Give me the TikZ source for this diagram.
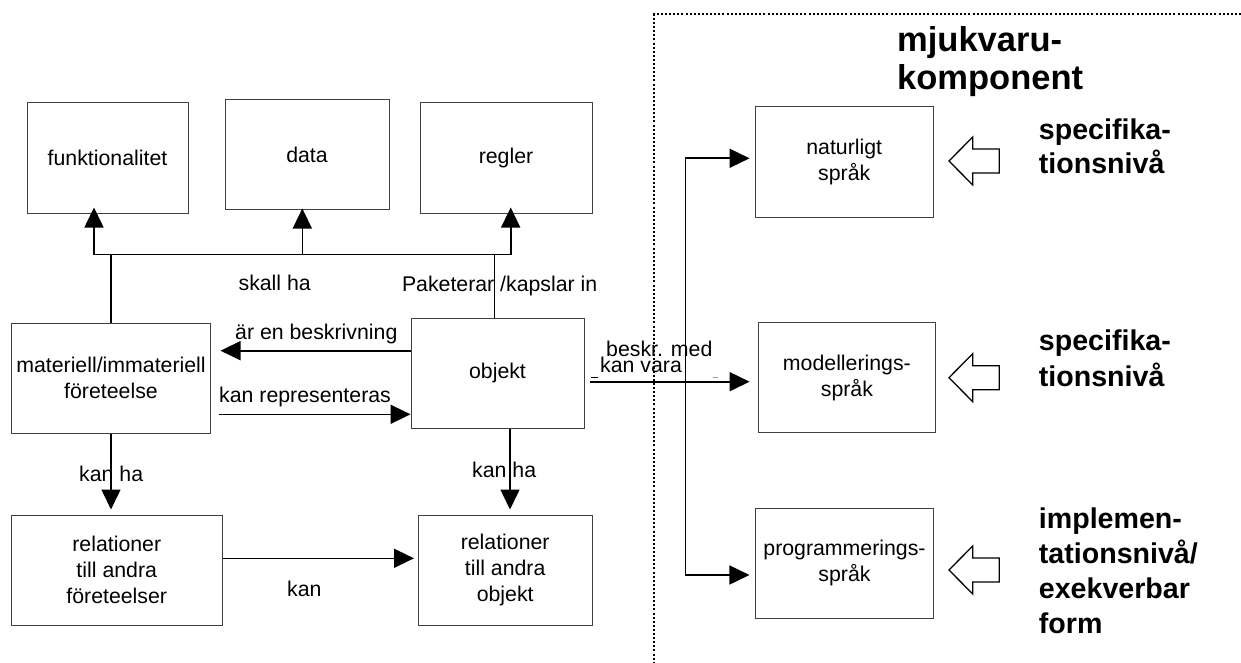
\documentclass[tikz,border=0pt]{standalone}
\usepackage{fontspec}
\setmainfont{Liberation Sans}
\usetikzlibrary{arrows.meta,calc}
\begin{document}
\begin{tikzpicture}[x=1pt,y=-1pt,
  box/.style={draw=black!75,line width=1pt,inner sep=0pt,align=center,font=\fontsize{21.3}{26}\selectfont},
  conn/.style={line width=1.6pt},
  arr/.style={conn,-{Triangle[length=20pt,width=19pt]}},
  lbl/.style={inner sep=0pt,font=\fontsize{21.3}{26}\selectfont},
  big/.style={inner sep=0pt,font=\fontsize{28.6}{35}\selectfont\bfseries},
  ttl/.style={inner sep=0pt,font=\fontsize{34.5}{37}\selectfont\bfseries},
  hollow/.style={draw,line width=1.3pt,fill=white,line join=miter}
]
\useasboundingbox (0,0) rectangle (1241,663);

% dotted frame
\draw[line width=2pt,dash pattern=on 2pt off 2.1pt] (1241,14.3) -- (654.3,14.3) -- (654.3,663);

% boxes
\node[box,minimum width=161pt,minimum height=110pt] (funk) at (107.5,158) {funktionalitet};
\node[box,minimum width=164pt,minimum height=109pt] (data) at (307,154.5) {data};
\node[box,minimum width=172pt,minimum height=110pt] (regler) at (506,158) {regler};
\node[box,minimum width=199pt,minimum height=110pt] (mat) at (111,378) {materiell/immateriell\\företeelse};
\node[box,minimum width=173pt,minimum height=110pt] (obj) at (497.5,373) {objekt};
\node[box,minimum width=210.5pt,minimum height=110pt] (rel1) at (116.75,570) {relationer\\till andra\\företeelser};
\node[box,minimum width=174.4pt,minimum height=110pt] (rel2) at (505.2,570) {relationer\\till andra\\objekt};
\node[box,minimum width=178.3pt,minimum height=110pt] (nat) at (844.2,162) {naturligt\\språk};
\node[box,minimum width=177pt,minimum height=110pt] (mod) at (846.9,377.5) {modellerings-\\språk};
\node[box,minimum width=177.5pt,minimum height=110pt] (prog) at (844.5,563.3) {programmerings-\\språk};

% bus "skall ha"
\coordinate (busL) at (94,254.3);
\coordinate (busM) at (302.3,254.3);
\coordinate (busR) at (510.7,254.3);
\draw[arr,shorten >=-6pt] (busR) -- (busL) -- (busL |- funk.south);
\draw[arr,shorten >=-6pt] (busL) -- (busR) -- (busR |- regler.south);
\draw[arr,shorten >=-1pt] (busM) -- (busM |- data.south);
\draw[conn] (mat.north) -- (mat.north |- busL);
\coordinate (ot) at ($(obj.north)+(-3.2,0)$);
\draw[conn] (ot) -- (ot |- busL);

% objekt <-> materiell
\coordinate (o1) at ($(obj.west)+(0,-22.3)$);
\draw[arr,shorten >=9.5pt] (o1) -- (o1 -| mat.east);
\coordinate (m1) at ($(mat.east)+(0,36.3)$);
\draw[arr,shorten <=7.5pt] (m1) -- (m1 -| obj.west);

% kan ha
\draw[arr,shorten >=5pt] (mat.south) -- (mat.south |- rel1.north);
\coordinate (o2) at ($(obj.south)+(12.5,0)$);
\draw[arr,shorten >=5pt] (o2) -- (o2 |- rel2.north);

% kan
\coordinate (r1) at ($(rel1.east)+(0,-11.7)$);
\draw[arr,shorten >=3.5pt] (r1) -- (r1 -| rel2.west);

% objekt -> languages
\coordinate (o3) at ($(obj.east)+(0,8.7)$);
\draw[arr,shorten <=5.7pt,shorten >=8.3pt] (o3) -- (o3 -| mod.west);
\coordinate (vt) at (685.4,158.3);
\coordinate (vb) at (685.4,575);
\draw[arr,shorten >=5pt] (vb) -- (vt) -- (vt -| nat.west);
\draw[arr,shorten >=5.8pt] (vt) -- (vb) -- (vb -| prog.west);

% hollow arrows
\foreach \ty in {161,377.7,570}
  \draw[hollow] (949,\ty) -- ++(23.7,-24) -- ++(0,12) -- ++(26.6,0) -- ++(0,24) -- ++(-26.6,0) -- ++(0,12) -- cycle;

% labels
\node[lbl,anchor=base west] (skall) at (238.4,290) {skall ha};
\node[lbl,anchor=base west] (pak) at (401.8,291.7) {Paketerar /kapslar in};
\node[lbl,anchor=base west] (besk) at (235,339) {är en beskrivning};
\node[lbl,anchor=base west] (repr) at (219,402.7) {kan representeras};
\node[lbl,anchor=base west] (kanha1) at (79,481.7) {kan ha};
\node[lbl,anchor=base west] (kanha2) at (472,477.7) {kan ha};
\node[lbl,anchor=base west] (kan) at (287,596) {kan};
\node[lbl,anchor=base west] (beskr) at (606,356.7) {beskr. med};
\node[lbl,anchor=base west] (kanvara) at (600,372.7) {kan vara};
\draw[line width=1pt] (590.7,377.7) -- (598,377.7);
\draw[black!40,line width=1pt] (712.7,377) -- (718,377);

% right side labels
\node[ttl,anchor=base west] (t1) at (897,51.7) {mjukvaru-};
\node[ttl,anchor=base west] (t2) at (897,90) {komponent};
\node[big,anchor=base west] (s1a) at (1038.7,140) {specifika-};
\node[big,anchor=base west] (s1b) at (1038.7,174) {tionsnivå};
\node[big,anchor=base west] (s2a) at (1038.7,350) {specifika-};
\node[big,anchor=base west] (s2b) at (1038.7,386.7) {tionsnivå};
\node[big,anchor=base west] (i1) at (1038.7,528.3) {implemen-};
\node[big,anchor=base west] (i2) at (1038.7,563.3) {tationsnivå/};
\node[big,anchor=base west] (i3) at (1038.7,598.3) {exekverbar};
\node[big,anchor=base west] (i4) at (1038.7,633.3) {form};
\end{tikzpicture}
\end{document}
